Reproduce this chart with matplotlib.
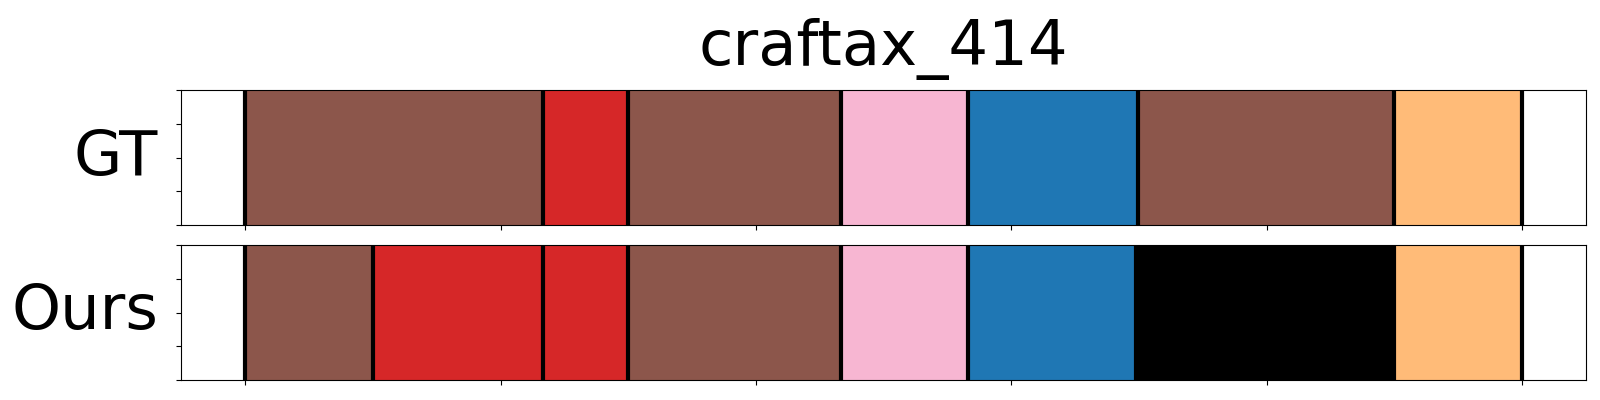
import numpy as np
import matplotlib
matplotlib.use('Agg')
import matplotlib.pyplot as plt

# segment boundaries (tick units), one colour per segment
gt_bounds = [0, 1.165, 1.498, 2.333, 2.831, 3.497, 4.501, 5.0]
gt_colors = ['#8c564b', '#d62728', '#8c564b', '#f7b6d2', '#1f77b4', '#8c564b', '#ffbb78']

ours_bounds = [0, 0.499, 1.165, 1.498, 2.333, 2.831, 3.490, 4.501, 5.0]
ours_colors = ['#8c564b', '#d62728', '#d62728', '#8c564b', '#f7b6d2', '#1f77b4', '#000000', '#ffbb78']

rows = [('GT', gt_bounds, gt_colors), ('Ours', ours_bounds, ours_colors)]
title = 'craftax_414'

fig = plt.figure(figsize=(16, 4), dpi=100)
ax_top = fig.add_axes([0.113, 0.4375, 0.878, 0.3375])
ax_bot = fig.add_axes([0.113, 0.05, 0.878, 0.3375], sharex=ax_top)

for ax, (name, bounds, cols) in zip([ax_top, ax_bot], rows):
    for k in range(len(cols)):
        ax.axvspan(bounds[k], bounds[k + 1], ymin=0, ymax=1,
                   facecolor=cols[k], edgecolor='#222222', linewidth=0.6)
    for b in bounds:
        ax.axvline(b, color='black', linewidth=3)
    ax.set_ylim(0, 1)
    ax.set_xticks(np.arange(0, 6))
    ax.set_yticks(np.linspace(0, 1, 5))
    ax.tick_params(labelbottom=False, labelleft=False)
    ax.set_ylabel(name, fontsize=45, rotation=0, ha='right', va='center', labelpad=13)

ax_top.set_xlim(-0.253, 5.25)
ax_top.set_title(title, fontsize=45, pad=18)

plt.savefig('out.png', dpi=100)
